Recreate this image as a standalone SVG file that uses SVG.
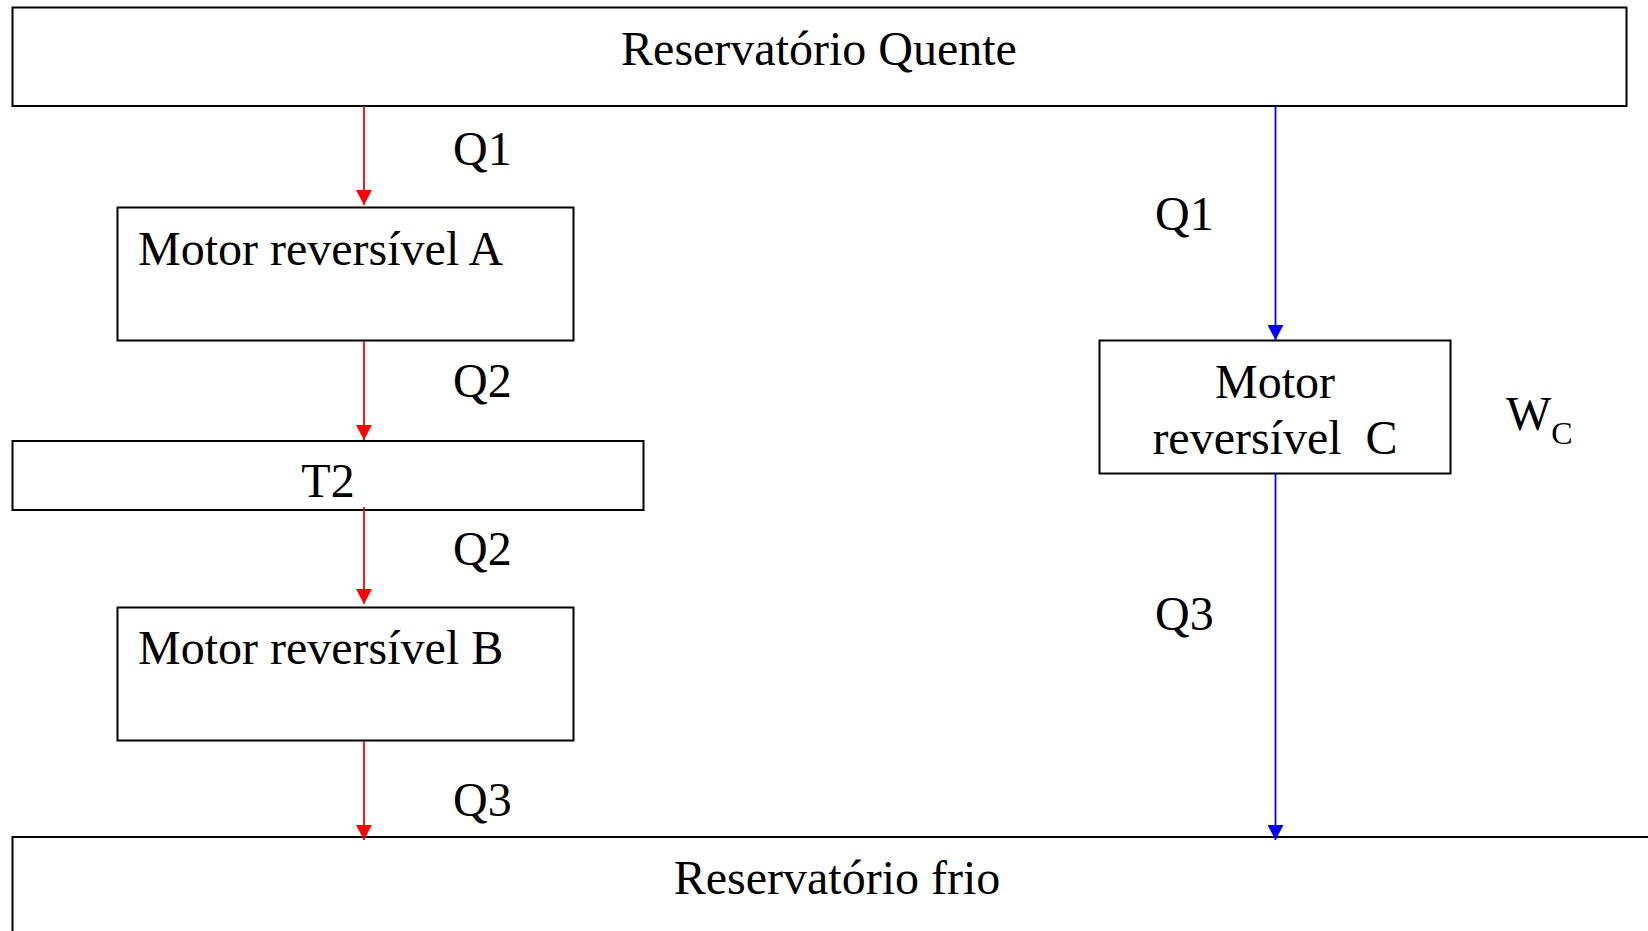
<svg xmlns="http://www.w3.org/2000/svg" width="1648" height="931" viewBox="0 0 1648 931">
<style>
.box{fill:#ffffff;stroke:#000000;stroke-width:2}
.t{font-family:"Liberation Serif","Times New Roman",serif;font-size:48px;fill:#000000}
.c{text-anchor:middle}
.red{stroke:#ff0000;stroke-width:1.8;fill:none}
.blue{stroke:#0000ff;stroke-width:1.8;fill:none}
</style>
<defs>
<marker id="ar" viewBox="0 0 15 16" refX="15" refY="8" markerWidth="15" markerHeight="16" markerUnits="userSpaceOnUse" orient="auto"><path d="M0,0 L15,8 L0,16 z" fill="#ff0000"/></marker>
<marker id="ab" viewBox="0 0 15 16" refX="15" refY="8" markerWidth="15" markerHeight="16" markerUnits="userSpaceOnUse" orient="auto"><path d="M0,0 L15,8 L0,16 z" fill="#0000ff"/></marker>
</defs>
<rect width="1648" height="931" fill="#ffffff"/>
<g id="hot">
<rect class="box" x="12.5" y="7.5" width="1614" height="98.5"/>
<text class="t c" x="819" y="65">Reservatório Quente</text>
</g>
<g id="cold">
<rect class="box" x="12.5" y="837" width="1650" height="120"/>
<text class="t c" x="837" y="894">Reservatório frio</text>
</g>
<g id="motorA">
<rect class="box" x="117.5" y="207.5" width="456" height="133"/>
<text class="t" x="138" y="265">Motor reversível A</text>
</g>
<g id="t2">
<rect class="box" x="12.5" y="441" width="631" height="69"/>
<text class="t c" x="328" y="497">T2</text>
</g>
<g id="motorB">
<rect class="box" x="117.5" y="607.5" width="456" height="133"/>
<text class="t" x="138" y="664">Motor reversível B</text>
</g>
<g id="motorC">
<rect class="box" x="1099.5" y="340.5" width="351" height="133"/>
<text class="t c" x="1275" y="398">Motor</text>
<text class="t c" x="1275" y="454" xml:space="preserve">reversível  C</text>
</g>
<g id="connectors">
<line class="red" x1="364" y1="106" x2="364" y2="205" marker-end="url(#ar)"/>
<line class="red" x1="364" y1="341" x2="364" y2="440" marker-end="url(#ar)"/>
<line class="red" x1="364" y1="507" x2="364" y2="604" marker-end="url(#ar)"/>
<line class="red" x1="364" y1="741" x2="364" y2="840" marker-end="url(#ar)"/>
<line class="blue" x1="1275.5" y1="106" x2="1275.5" y2="340" marker-end="url(#ab)"/>
<line class="blue" x1="1275.5" y1="473" x2="1275.5" y2="840" marker-end="url(#ab)"/>
</g>
<g id="labels">
<text class="t" x="453" y="165">Q1</text>
<text class="t" x="453" y="397">Q2</text>
<text class="t" x="453" y="565">Q2</text>
<text class="t" x="453" y="816">Q3</text>
<text class="t" x="1155" y="230">Q1</text>
<text class="t" x="1155" y="630">Q3</text>
<text class="t" x="1506" y="430">W<tspan font-size="32" dy="14">C</tspan></text>
</g>
</svg>
